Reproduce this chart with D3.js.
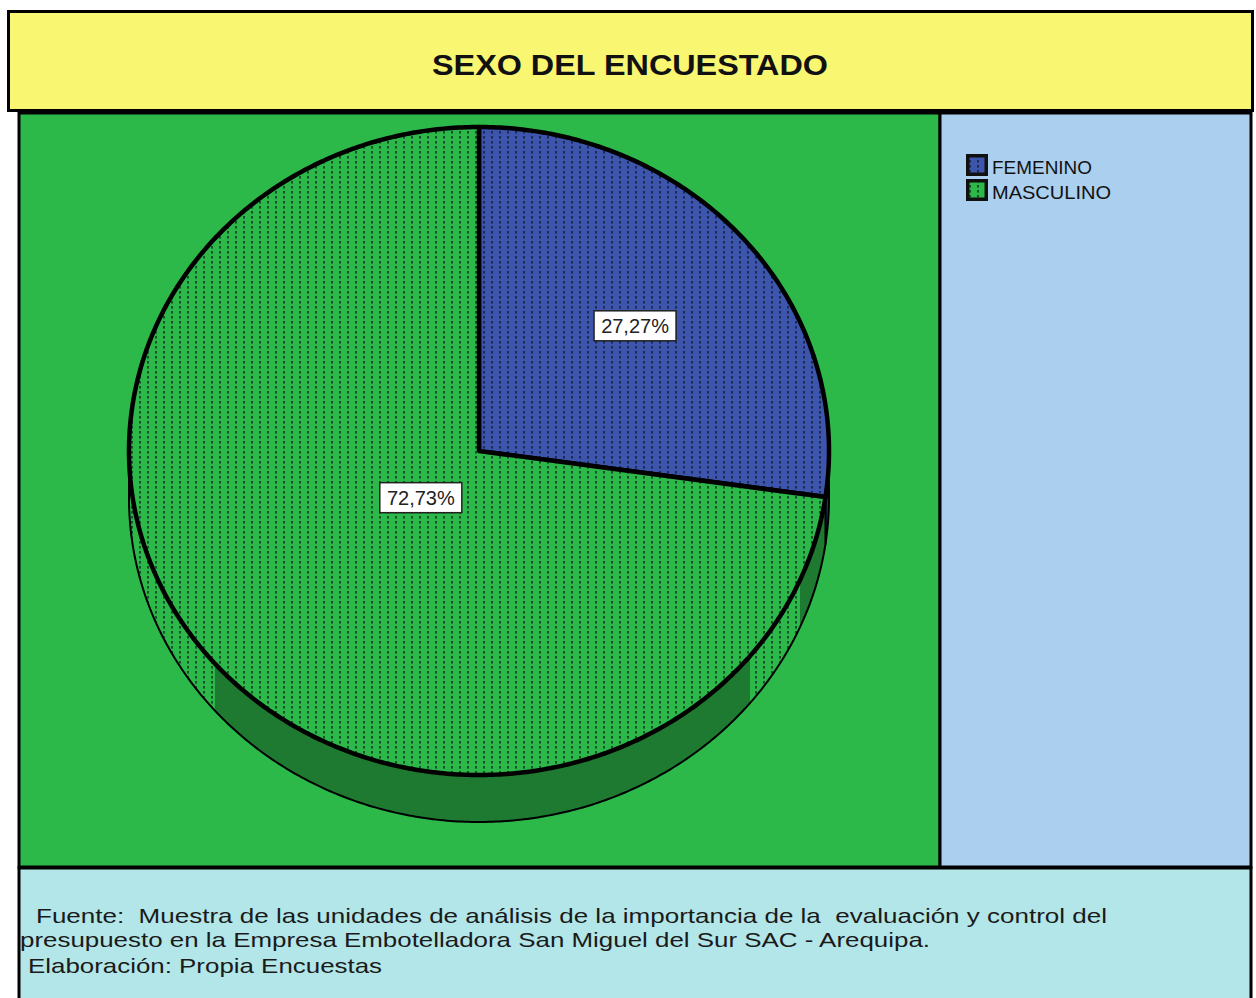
<!DOCTYPE html>
<html>
<head>
<meta charset="utf-8">
<script src="https://cdn.jsdelivr.net/npm/d3@7"></script>
<style>
  html, body { margin: 0; padding: 0; background: #ffffff; }
  svg { display: block; }
  text { font-family: "Liberation Sans", Arial, sans-serif; }
</style>
</head>
<body>
<div id="chart"></div>
<script>
// ---------- data ----------
const chartTitle = "SEXO DEL ENCUESTADO";
const categories = ["FEMENINO", "MASCULINO"];
const percentages = [27.27, 72.73];
const valueLabels = ["27,27%", "72,73%"];
const footerLines = [
  "Fuente:  Muestra de las unidades de análisis de la importancia de la  evaluación y control del",
  "presupuesto en la Empresa Embotelladora San Miguel del Sur SAC - Arequipa.",
  "Elaboración: Propia Encuestas"
];

// ---------- style ----------
const W = 1256, H = 998;
const sliceColors = ["#3d55ad", "#2db84a"];
const sideColors = ["#24357e", "#1f7a31"];
const colorScale = d3.scaleOrdinal().domain(categories).range(sliceColors);
const sideScale = d3.scaleOrdinal().domain(categories).range(sideColors);

const svg = d3.select("#chart").append("svg")
  .attr("width", W).attr("height", H);

const defs = svg.append("defs");
categories.forEach((c, i) => {
  const p = defs.append("pattern")
    .attr("id", "pat" + i)
    .attr("patternUnits", "userSpaceOnUse")
    .attr("width", 8).attr("height", 5);
  p.append("rect").attr("width", 8).attr("height", 5).attr("fill", colorScale(c));
  p.append("rect").attr("x", 3).attr("y", 1).attr("width", 2).attr("height", 2.6)
    .attr("fill", "rgba(10,20,30,0.62)");
});

// ---------- panels ----------
svg.append("rect").attr("x", 8.5).attr("y", 11.5).attr("width", 1244).attr("height", 99)
  .attr("fill", "#f9f672").attr("stroke", "#000").attr("stroke-width", 3);
svg.append("text").attr("x", 630).attr("y", 75).attr("text-anchor", "middle")
  .attr("font-size", 29).attr("font-weight", "bold").attr("fill", "#111")
  .attr("textLength", 396).attr("lengthAdjust", "spacingAndGlyphs")
  .text(chartTitle);

svg.append("rect").attr("x", 19).attr("y", 113).attr("width", 921).attr("height", 754)
  .attr("fill", "#2db84a").attr("stroke", "#000").attr("stroke-width", 3);
svg.append("rect").attr("x", 940).attr("y", 113).attr("width", 311).attr("height", 754)
  .attr("fill", "#abcfee").attr("stroke", "#000").attr("stroke-width", 3);
svg.append("rect").attr("x", 19).attr("y", 868).attr("width", 1232).attr("height", 140)
  .attr("fill", "#b3e6e8").attr("stroke", "#000").attr("stroke-width", 3);

// ---------- pie ----------
const cx = 479, cy = 451, rx = 350, ry = 324, depth = 47;
const pie = d3.pie().sort(null).value(d => d.value);
const arcs = pie(categories.map((c, i) => ({ cat: c, value: percentages[i], label: valueLabels[i] })));

const line = d3.line().x(d => d[0]).y(d => d[1]);
function pt(a, yOff) { return [cx + rx * Math.sin(a), cy + yOff - ry * Math.cos(a)]; }
function arcPts(a0, a1, yOff) {
  const n = Math.max(2, Math.ceil(Math.abs(a1 - a0) / 0.01));
  return d3.range(n + 1).map(k => pt(a0 + (a1 - a0) * k / n, yOff));
}

const g = svg.append("g");
defs.append("clipPath").attr("id", "darkClip")
  .selectAll("rect").data([[215, 750], [800, 840]]).join("rect")
  .attr("x", d => d[0]).attr("y", 400).attr("width", d => d[1] - d[0]).attr("height", 500);

// sides
arcs.forEach((d, i) => {
  const s = Math.max(d.startAngle, Math.PI / 2), e = Math.min(d.endAngle, 3 * Math.PI / 2);
  if (e <= s) return;
  const pts = arcPts(s, e, 0).concat(arcPts(e, s, depth));
  const path = line(pts) + "Z";
  if (i === 0) {
    g.append("path").attr("d", path).attr("fill", sideScale(d.data.cat));
  } else {
    g.append("path").attr("d", path).attr("fill", "url(#pat" + i + ")");
    g.append("path").attr("d", path).attr("fill", sideScale(d.data.cat))
      .attr("clip-path", "url(#darkClip)");
  }
  g.append("path").attr("d", path).attr("fill", "none")
    .attr("stroke", "#000").attr("stroke-width", 2).attr("stroke-linejoin", "round");
});

// faces
arcs.forEach((d, i) => {
  const pts = [[cx, cy]].concat(arcPts(d.startAngle, d.endAngle, 0));
  g.append("path").attr("d", line(pts) + "Z")
    .attr("fill", "url(#pat" + i + ")")
    .attr("stroke", "#000").attr("stroke-width", 4.5).attr("stroke-linejoin", "round");
});

// labels
const labelFrac = [0.59, 0.22];
arcs.forEach((d, i) => {
  const mid = (d.startAngle + d.endAngle) / 2;
  const x = cx + rx * labelFrac[i] * Math.sin(mid);
  const y = cy - ry * labelFrac[i] * Math.cos(mid);
  const lg = g.append("g").attr("transform", `translate(${x},${y})`);
  lg.append("rect").attr("x", -41).attr("y", -15).attr("width", 82).attr("height", 30)
    .attr("fill", "#fff").attr("stroke", "#222").attr("stroke-width", 1.5);
  lg.append("text").attr("text-anchor", "middle").attr("y", 7)
    .attr("font-size", 20).attr("fill", "#222").text(d.data.label);
});

// ---------- legend ----------
const leg = svg.append("g").selectAll("g").data(categories).join("g")
  .attr("transform", (d, i) => `translate(966, ${154 + i * 25})`);
leg.append("rect").attr("width", 22).attr("height", 22).attr("fill", "#111");
leg.append("rect").attr("x", 3.5).attr("y", 3.5).attr("width", 15).attr("height", 15)
  .attr("fill", (d, i) => "url(#pat" + i + ")");
leg.append("text").attr("x", 26).attr("y", 20).attr("font-size", 19).attr("fill", "#111")
  .attr("textLength", (d, i) => [100, 119][i]).attr("lengthAdjust", "spacingAndGlyphs")
  .text(d => d);

// ---------- footer text ----------
const footPos = [[36, 923, 1071], [20, 947, 910], [28, 973, 354]];
svg.append("g").selectAll("text").data(footerLines).join("text")
  .attr("x", (d, i) => footPos[i][0]).attr("y", (d, i) => footPos[i][1])
  .attr("textLength", (d, i) => footPos[i][2]).attr("lengthAdjust", "spacingAndGlyphs")
  .attr("font-size", 21).attr("fill", "#1a1a1a")
  .attr("xml:space", "preserve").style("white-space", "pre")
  .text(d => d);
</script>
</body>
</html>
